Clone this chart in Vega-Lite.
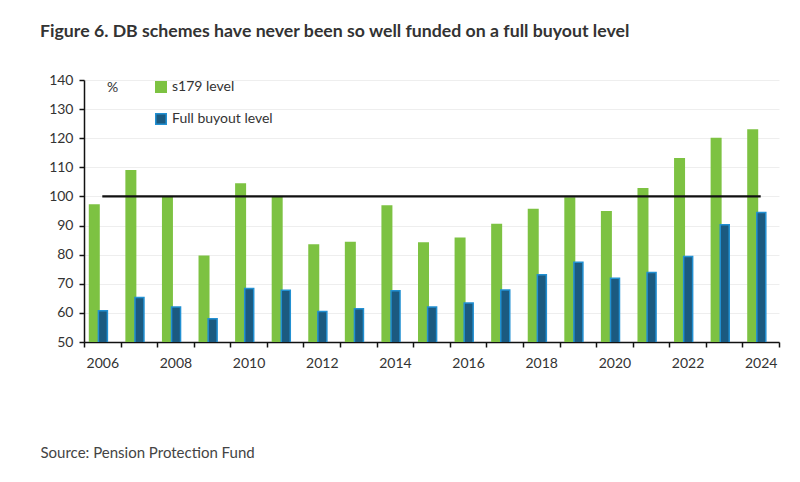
{
  "$schema": "https://vega.github.io/schema/vega-lite/v6.json",
  "width": 695,
  "height": 262,
  "autosize": "none",
  "padding": {"left": 84, "top": 80, "right": 21, "bottom": 140},
  "background": "white",
  "config": {"font": "Lato", "view": {"stroke": null}},
  "title": {
    "text": "Figure 6. DB schemes have never been so well funded on a full buyout level",
    "anchor": "start",
    "frame": "group",
    "dx": -44,
    "offset": 32,
    "fontSize": 17.7,
    "font": "Lato",
    "fontWeight": "bold",
    "color": "#333333"
  },
  "datasets": {
    "funding": [
      {"year": 2006, "series": "s179 level", "value": 97.3},
      {"year": 2007, "series": "s179 level", "value": 109.1},
      {"year": 2008, "series": "s179 level", "value": 99.8},
      {"year": 2009, "series": "s179 level", "value": 79.7},
      {"year": 2010, "series": "s179 level", "value": 104.5},
      {"year": 2011, "series": "s179 level", "value": 99.9},
      {"year": 2012, "series": "s179 level", "value": 83.6},
      {"year": 2013, "series": "s179 level", "value": 84.4},
      {"year": 2014, "series": "s179 level", "value": 97.0},
      {"year": 2015, "series": "s179 level", "value": 84.3},
      {"year": 2016, "series": "s179 level", "value": 85.9},
      {"year": 2017, "series": "s179 level", "value": 90.6},
      {"year": 2018, "series": "s179 level", "value": 95.8},
      {"year": 2019, "series": "s179 level", "value": 99.7},
      {"year": 2020, "series": "s179 level", "value": 95.0},
      {"year": 2021, "series": "s179 level", "value": 102.9},
      {"year": 2022, "series": "s179 level", "value": 113.2},
      {"year": 2023, "series": "s179 level", "value": 120.2},
      {"year": 2024, "series": "s179 level", "value": 123.1},
      {"year": 2006, "series": "Full buyout level", "value": 60.7},
      {"year": 2007, "series": "Full buyout level", "value": 65.3},
      {"year": 2008, "series": "Full buyout level", "value": 62.0},
      {"year": 2009, "series": "Full buyout level", "value": 58.0},
      {"year": 2010, "series": "Full buyout level", "value": 68.4},
      {"year": 2011, "series": "Full buyout level", "value": 67.8},
      {"year": 2012, "series": "Full buyout level", "value": 60.5},
      {"year": 2013, "series": "Full buyout level", "value": 61.4},
      {"year": 2014, "series": "Full buyout level", "value": 67.6},
      {"year": 2015, "series": "Full buyout level", "value": 62.0},
      {"year": 2016, "series": "Full buyout level", "value": 63.4},
      {"year": 2017, "series": "Full buyout level", "value": 67.9},
      {"year": 2018, "series": "Full buyout level", "value": 73.1},
      {"year": 2019, "series": "Full buyout level", "value": 77.4},
      {"year": 2020, "series": "Full buyout level", "value": 71.9},
      {"year": 2021, "series": "Full buyout level", "value": 73.9},
      {"year": 2022, "series": "Full buyout level", "value": 79.4},
      {"year": 2023, "series": "Full buyout level", "value": 90.3},
      {"year": 2024, "series": "Full buyout level", "value": 94.5}
    ],
    "reference": [
      {"year": 2006, "level": 100},
      {"year": 2024, "level": 100}
    ]
  },
  "encoding": {
    "x": {
      "field": "year",
      "type": "ordinal",
      "scale": {"paddingInner": 0, "paddingOuter": 0},
      "axis": {
        "tickBand": "extent",
        "labelAngle": 0,
        "labelExpr": "datum.value % 2 == 0 ? datum.label : ''",
        "labelFontSize": 14,
        "labelColor": "#333333",
        "labelPadding": 9,
        "domainColor": "#111111",
        "domainWidth": 1.5,
        "tickColor": "#111111",
        "tickWidth": 1.5,
        "tickSize": 5,
        "grid": false,
        "title": "Source: Pension Protection Fund",
        "titleX": -44,
        "titleY": 110,
        "titleAlign": "left",
        "titleBaseline": "middle",
        "titleFontSize": 15,
        "titleFontWeight": "normal",
        "titleColor": "#444444"
      }
    },
    "y": {
      "field": "value",
      "type": "quantitative",
      "scale": {"domain": [50, 140], "nice": false, "zero": false},
      "axis": {
        "values": [50, 60, 70, 80, 90, 100, 110, 120, 130, 140],
        "labelFontSize": 14,
        "labelColor": "#333333",
        "labelPadding": 6,
        "domainColor": "#111111",
        "domainWidth": 1.5,
        "tickColor": "#111111",
        "tickWidth": 1.5,
        "tickSize": 5,
        "grid": true,
        "gridColor": "#eeeeee",
        "gridWidth": 1,
        "title": "%",
        "titleAngle": 0,
        "titleX": 28,
        "titleY": 7,
        "titleAlign": "center",
        "titleBaseline": "middle",
        "titleFontSize": 14,
        "titleFontWeight": "normal",
        "titleColor": "#333333"
      }
    }
  },
  "layer": [
    {
      "data": {"name": "funding"},
      "transform": [{"filter": "datum.series == 's179 level'"}],
      "mark": {"type": "bar", "width": 11, "xOffset": -8, "strokeWidth": 0, "clip": true},
      "encoding": {
        "fill": {
          "field": "series",
          "type": "nominal",
          "scale": {"domain": ["s179 level", "Full buyout level"], "range": ["#7dc242", "#1b5a80"]},
          "legend": {
            "title": null,
            "orient": "none",
            "legendX": 70,
            "legendY": 0,
            "direction": "vertical",
            "symbolType": "square",
            "symbolSize": 110,
            "symbolStrokeWidth": 1.5,
            "labelFontSize": 14,
            "labelColor": "#333333",
            "labelOffset": 4,
            "rowPadding": 14
          }
        },
        "stroke": {
          "field": "series",
          "type": "nominal",
          "scale": {"domain": ["s179 level", "Full buyout level"], "range": ["#7dc242", "#2290d2"]},
          "legend": {
            "title": null,
            "orient": "none",
            "legendX": 70,
            "legendY": 0,
            "direction": "vertical",
            "symbolType": "square",
            "symbolSize": 110,
            "symbolStrokeWidth": 1.5,
            "labelFontSize": 14,
            "labelColor": "#333333",
            "labelOffset": 4,
            "rowPadding": 14
          }
        }
      }
    },
    {
      "data": {"name": "funding"},
      "transform": [{"filter": "datum.series == 'Full buyout level'"}],
      "mark": {"type": "bar", "width": 9, "xOffset": 0.6, "strokeWidth": 1.5, "clip": true},
      "encoding": {
        "fill": {"field": "series", "type": "nominal"},
        "stroke": {"field": "series", "type": "nominal"}
      }
    },
    {
      "data": {"name": "reference"},
      "mark": {"type": "line", "color": "#111111", "strokeWidth": 2.2},
      "encoding": {
        "y": {"field": "level", "type": "quantitative"}
      }
    }
  ]
}
